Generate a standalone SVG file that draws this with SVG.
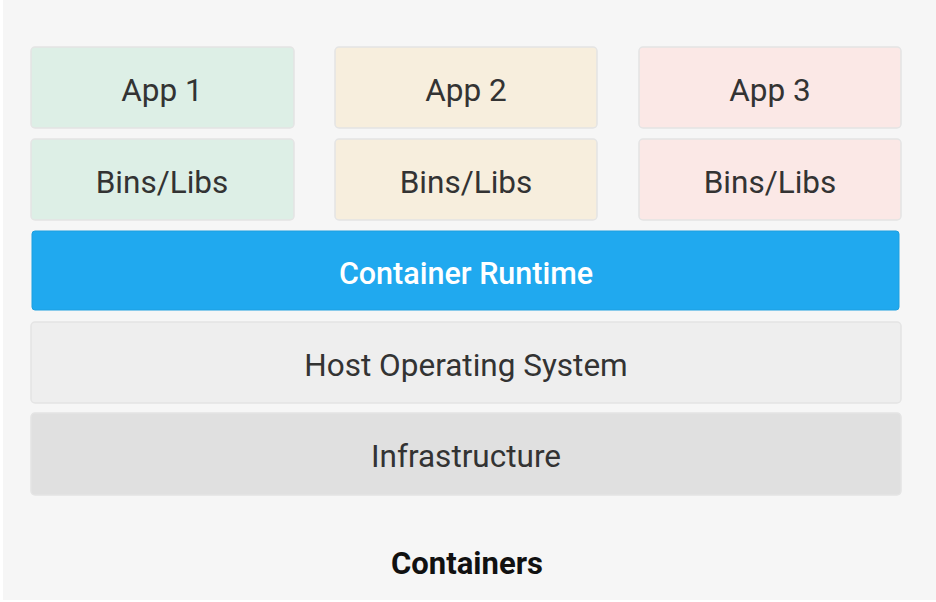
<svg xmlns="http://www.w3.org/2000/svg" width="936" height="602" viewBox="0 0 936 602">
<style>
.box{stroke:#e4e4e4;stroke-width:1.5}
.t{font-family:Roboto,"Liberation Sans",sans-serif;font-size:31.5px;fill:#333;text-anchor:middle;dominant-baseline:central}
.w{fill:#ffffff;font-weight:500;font-size:30.5px}
.b{font-weight:bold;fill:#111;font-size:31px}
</style>
<rect x="0" y="0" width="936" height="602" fill="#ffffff"/>
<rect x="3" y="0" width="933" height="600" fill="#f6f6f6"/>
<g id="app1"><rect class="box" x="31" y="47" width="263" height="81" rx="4" fill="#ddefe6"/><text class="t" x="162" y="90">App 1</text></g>
<g id="app2"><rect class="box" x="335" y="47" width="262" height="81" rx="4" fill="#f7eedd"/><text class="t" x="466" y="90">App 2</text></g>
<g id="app3"><rect class="box" x="639" y="47" width="262" height="81" rx="4" fill="#fbe8e6"/><text class="t" x="770" y="90">App 3</text></g>
<g id="bins1"><rect class="box" x="31" y="139" width="263" height="81" rx="4" fill="#ddefe6"/><text class="t" x="162" y="182">Bins/Libs</text></g>
<g id="bins2"><rect class="box" x="335" y="139" width="262" height="81" rx="4" fill="#f7eedd"/><text class="t" x="466" y="182">Bins/Libs</text></g>
<g id="bins3"><rect class="box" x="639" y="139" width="262" height="81" rx="4" fill="#fbe8e6"/><text class="t" x="770" y="182">Bins/Libs</text></g>
<g id="runtime"><rect x="32" y="231" width="867" height="79" rx="3" fill="#20a9ef" stroke="#1c9fe0" stroke-width="1"/><text class="t w" x="466" y="273">Container Runtime</text></g>
<g id="hostos"><rect class="box" x="31" y="322" width="870" height="81" rx="4" fill="#eeeeee"/><text class="t" x="466" y="365">Host Operating System</text></g>
<g id="infra"><rect class="box" x="31" y="413" width="870" height="82" rx="4" fill="#e0e0e0"/><text class="t" x="466" y="456">Infrastructure</text></g>
<g id="caption"><text class="t b" x="467" y="563">Containers</text></g>
<g id="connectors"></g>
</svg>
